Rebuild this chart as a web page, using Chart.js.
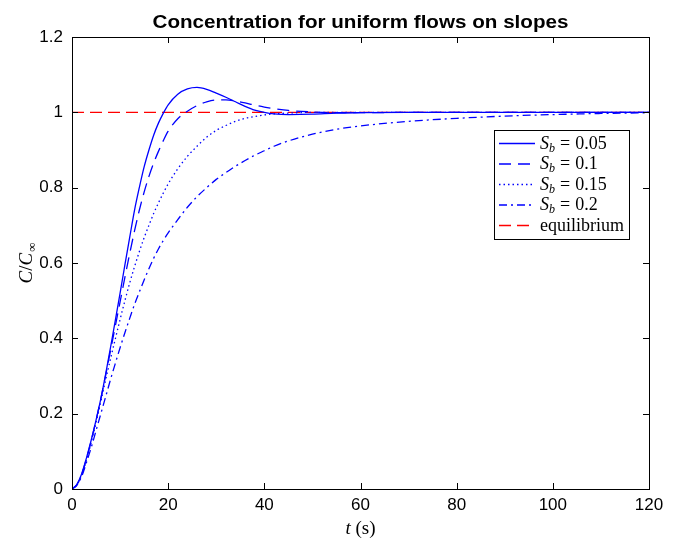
<!DOCTYPE html>
<html>
<head>
<meta charset="utf-8">
<script src="https://cdn.jsdelivr.net/npm/chart.js@4.4.1/dist/chart.umd.min.js"></script>
<style>
  html, body { margin: 0; padding: 0; background: #fff; }
</style>
</head>
<body>
<canvas id="chart" width="678" height="540"></canvas>
<script>
// Datos (t en segundos, C/C_inf)
const tValues = [0, 1, 2, 3, 4, 5, 6, 7, 8, 9, 10, 11, 12, 13, 14, 15, 16, 17, 18, 19, 20,
  22, 24, 26, 28, 30, 32, 34, 36, 38, 40, 42, 45, 50, 55, 60, 70, 80, 90, 100, 110, 120];

const cSb005 = [0, 0.012, 0.04, 0.082, 0.13, 0.183, 0.24, 0.305, 0.375, 0.447, 0.52, 0.595, 0.668, 0.74, 0.80, 0.855, 0.90, 0.94, 0.972, 0.998, 1.02,
  1.048, 1.062, 1.066, 1.061, 1.051, 1.04, 1.028, 1.016, 1.006, 1.0, 0.996, 0.994, 0.995, 0.998, 0.999, 1.0, 1.0, 1.0, 1.0, 1.0, 1.0];

const cSb01 = [0, 0.011, 0.038, 0.08, 0.128, 0.182, 0.24, 0.302, 0.367, 0.432, 0.497, 0.562, 0.625, 0.685, 0.74, 0.788, 0.83, 0.866, 0.897, 0.925, 0.95,
  0.983, 1.003, 1.018, 1.028, 1.033, 1.033, 1.03, 1.025, 1.019, 1.014, 1.01, 1.005, 1.001, 0.999, 0.999, 1.0, 1.0, 1.0, 1.0, 1.0, 1.0];

const cSb015 = [0, 0.011, 0.037, 0.077, 0.124, 0.177, 0.233, 0.29, 0.345, 0.398, 0.45, 0.5, 0.547, 0.59, 0.63, 0.667, 0.70, 0.732, 0.76, 0.786, 0.81,
  0.85, 0.883, 0.91, 0.934, 0.952, 0.965, 0.976, 0.984, 0.989, 0.993, 0.996, 0.998, 1.0, 1.0, 1.0, 1.0, 1.0, 1.0, 1.0, 1.0, 1.0];

const cSb02 = [0, 0.01, 0.033, 0.07, 0.11, 0.155, 0.2, 0.245, 0.29, 0.333, 0.375, 0.415, 0.453, 0.49, 0.523, 0.555, 0.585, 0.613, 0.638, 0.66, 0.68,
  0.715, 0.748, 0.776, 0.80, 0.822, 0.84, 0.857, 0.872, 0.886, 0.898, 0.91, 0.924, 0.942, 0.955, 0.964, 0.976, 0.984, 0.99, 0.994, 0.997, 0.999];

const eqT = [0, 120];
const eqC = [1, 1];

const legendValues = ['0.05', '0.1', '0.15', '0.2'];

const BLUE = '#0000ff';
const RED = '#ff0000';
const SANS = '"Liberation Sans", Arial, sans-serif';
const SERIF = '"Liberation Serif", "DejaVu Serif", serif';

const toPoints = (xs, ys) => xs.map((x, i) => ({ x: x, y: ys[i] }));

const lineStyles = [
  { data: cSb005, dash: [] },
  { data: cSb01, dash: [12, 7] },
  { data: cSb015, dash: [1.5, 3] },
  { data: cSb02, dash: [8, 4, 2, 4] }
];

const datasets = lineStyles.map((s, i) => ({
  label: 'S_b = ' + legendValues[i],
  data: toPoints(tValues, s.data),
  borderColor: BLUE,
  borderWidth: 1.3,
  borderDash: s.dash,
  pointRadius: 0,
  fill: false,
  cubicInterpolationMode: 'monotone'
}));

datasets.push({
  label: 'equilibrium',
  data: toPoints(eqT, eqC),
  borderColor: RED,
  borderWidth: 1.3,
  borderDash: [12, 6],
  pointRadius: 0,
  fill: false
});

// marco, ticks interiores, títulos y leyenda estilo MATLAB
const decorPlugin = {
  id: 'decor',
  afterDatasetsDraw(chart) {
    const { ctx, chartArea: a, scales } = chart;
    const xs = scales.x, ys = scales.y;
    const tick = 6;
    ctx.save();
    ctx.strokeStyle = '#000';
    ctx.lineWidth = 1;
    ctx.setLineDash([]);
    ctx.beginPath();
    xs.ticks.forEach(t => {
      const px = Math.round(xs.getPixelForValue(t.value)) + 0.5;
      ctx.moveTo(px, a.bottom); ctx.lineTo(px, a.bottom - tick);
      ctx.moveTo(px, a.top); ctx.lineTo(px, a.top + tick);
    });
    ys.ticks.forEach(t => {
      const py = Math.round(ys.getPixelForValue(t.value)) + 0.5;
      ctx.moveTo(a.left, py); ctx.lineTo(a.left + tick, py);
      ctx.moveTo(a.right, py); ctx.lineTo(a.right - tick, py);
    });
    ctx.stroke();
    ctx.strokeRect(Math.round(a.left) + 0.5, Math.round(a.top) + 0.5,
      Math.round(a.right - a.left), Math.round(a.bottom - a.top));

    // título (ajustado al ancho del original)
    const title = 'Concentration for uniform flows on slopes';
    ctx.fillStyle = '#000';
    ctx.font = 'bold 18px ' + SANS;
    ctx.textAlign = 'center';
    ctx.textBaseline = 'alphabetic';
    const tw = ctx.measureText(title).width;
    ctx.save();
    ctx.translate((a.left + a.right) / 2, 28);
    ctx.scale(416 / tw, 1);
    ctx.fillText(title, 0, 0);
    ctx.restore();

    // etiqueta eje x: t (s)
    ctx.textAlign = 'left';
    const fItal = 'italic 19px ' + SERIF;
    const fRom = '19px ' + SERIF;
    ctx.font = fItal; const wt = ctx.measureText('t').width;
    ctx.font = fRom; const ws = ctx.measureText(' (s)').width;
    let x0 = (a.left + a.right) / 2 - (wt + ws) / 2;
    ctx.font = fItal; ctx.fillText('t', x0, 534);
    ctx.font = fRom; ctx.fillText(' (s)', x0 + wt, 534);

    // etiqueta eje y: C/C∞
    ctx.save();
    ctx.translate(32, (a.top + a.bottom) / 2);
    ctx.rotate(-Math.PI / 2);
    const fSub = '13px ' + SERIF;
    ctx.font = fItal; const wc = ctx.measureText('C').width;
    ctx.font = fRom; const wsl = ctx.measureText('/').width;
    ctx.font = fSub; const winf = ctx.measureText('∞').width;
    let yx = -(wc * 2 + wsl + winf + 1) / 2;
    ctx.font = fItal; ctx.fillText('C', yx, 0); yx += wc;
    ctx.font = fRom; ctx.fillText('/', yx, 0); yx += wsl;
    ctx.font = fItal; ctx.fillText('C', yx, 0); yx += wc + 1;
    ctx.font = fSub; ctx.fillText('∞', yx, 4);
    ctx.restore();

    // leyenda
    const lx = 494, ly = 130, lw = 135, lh = 109;
    ctx.fillStyle = '#fff';
    ctx.fillRect(lx, ly, lw, lh);
    ctx.strokeStyle = '#000';
    ctx.lineWidth = 1;
    ctx.strokeRect(lx + 0.5, ly + 0.5, lw, lh);
    chart.data.datasets.forEach((ds, i) => {
      const yy = 143.5 + i * 20.5;
      ctx.strokeStyle = ds.borderColor;
      ctx.lineWidth = 1.3;
      ctx.setLineDash(ds.borderDash);
      ctx.beginPath();
      ctx.moveTo(499, yy); ctx.lineTo(535, yy);
      ctx.stroke();
      ctx.setLineDash([]);
      ctx.fillStyle = '#000';
      const base = yy + 5;
      let tx = 540;
      if (i < legendValues.length) {
        ctx.font = 'italic 18px ' + SERIF; ctx.fillText('S', tx, base); tx += ctx.measureText('S').width;
        ctx.font = 'italic 12px ' + SERIF; ctx.fillText('b', tx, base + 3); tx += ctx.measureText('b').width + 5;
        ctx.font = '18px ' + SERIF; ctx.fillText('=', tx, base); tx += ctx.measureText('=').width + 5;
        ctx.fillText(legendValues[i], tx, base);
      } else {
        ctx.font = '18px ' + SERIF; ctx.fillText('equilibrium', tx, base);
      }
    });
    ctx.restore();
  }
};

new Chart(document.getElementById('chart').getContext('2d'), {
  type: 'line',
  data: { datasets: datasets },
  options: {
    responsive: false,
    devicePixelRatio: 1,
    animation: false,
    layout: { padding: { top: 37, right: 29, left: 0, bottom: 0 } },
    plugins: { legend: { display: false }, tooltip: { enabled: false } },
    scales: {
      x: {
        type: 'linear', min: 0, max: 120,
        grid: { display: false, drawTicks: false },
        border: { display: false },
        ticks: { stepSize: 20, color: '#000', padding: 6, font: { family: SANS, size: 17 } },
        afterFit: s => { s.height = 51; }
      },
      y: {
        type: 'linear', min: 0, max: 1.2,
        grid: { display: false, drawTicks: false },
        border: { display: false },
        ticks: {
          stepSize: 0.2, color: '#000', padding: 9, font: { family: SANS, size: 17 },
          callback: v => String(+v.toFixed(1))
        },
        afterFit: s => { s.width = 72; }
      }
    }
  },
  plugins: [decorPlugin]
});
</script>
</body>
</html>
